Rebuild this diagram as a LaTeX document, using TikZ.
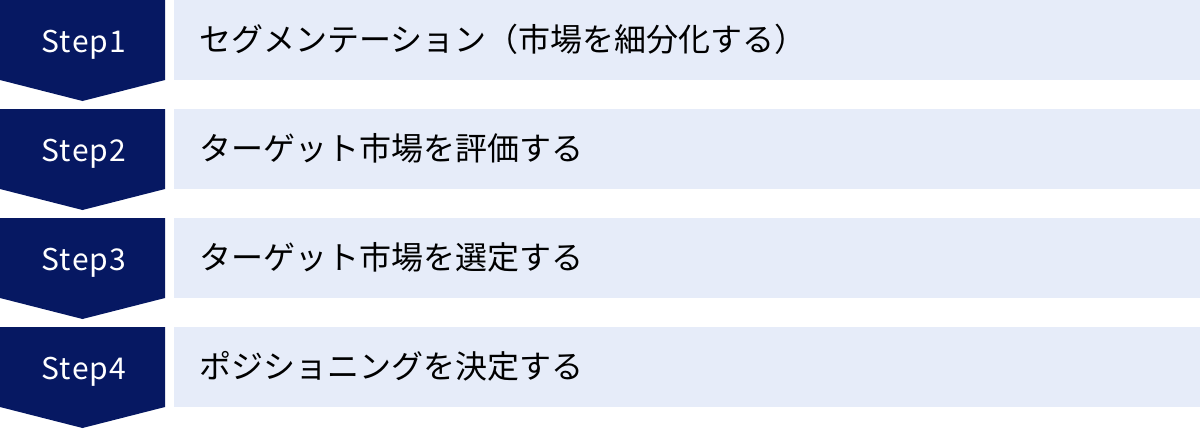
\documentclass[tikz,border=0pt]{standalone}
\usepackage{fontspec}
\setmainfont{Noto Sans CJK JP}
\definecolor{navy}{HTML}{061862}
\definecolor{pale}{HTML}{E6ECF9}
\begin{document}
\begin{tikzpicture}[x=1pt,y=-1pt,
  chevron/.style={fill=navy,draw=none},
  stepbox/.style={fill=pale,draw=none},
  steplabel/.style={text=white,font=\fontsize{30}{36}\selectfont\addfontfeature{LetterSpace=4},anchor=base,inner sep=0pt},
  desclabel/.style={text=black,font=\fontsize{32}{38}\selectfont,anchor=base west,inner sep=0pt}]
\useasboundingbox (0,0) rectangle (1200,429);
\foreach \i/\d in {1/{セグメンテーション（市場を細分化する）},2/{ターゲット市場を評価する},3/{ターゲット市場を選定する},4/{ポジショニングを決定する}}{
  \pgfmathsetmacro{\yy}{(\i-1)*109}
  \path[chevron] (0,\yy) -- (165,\yy) -- (165,\yy+80) -- (82.5,\yy+101) -- (0,\yy+80) -- cycle;
  \path[stepbox] (174,\yy) rectangle (1200,\yy+80);
  \node[steplabel] (s\i) at (84,\yy+52) {Step\i};
  \node[desclabel] (d\i) at (199,\yy+51) {\d};
}
\end{tikzpicture}
\end{document}
